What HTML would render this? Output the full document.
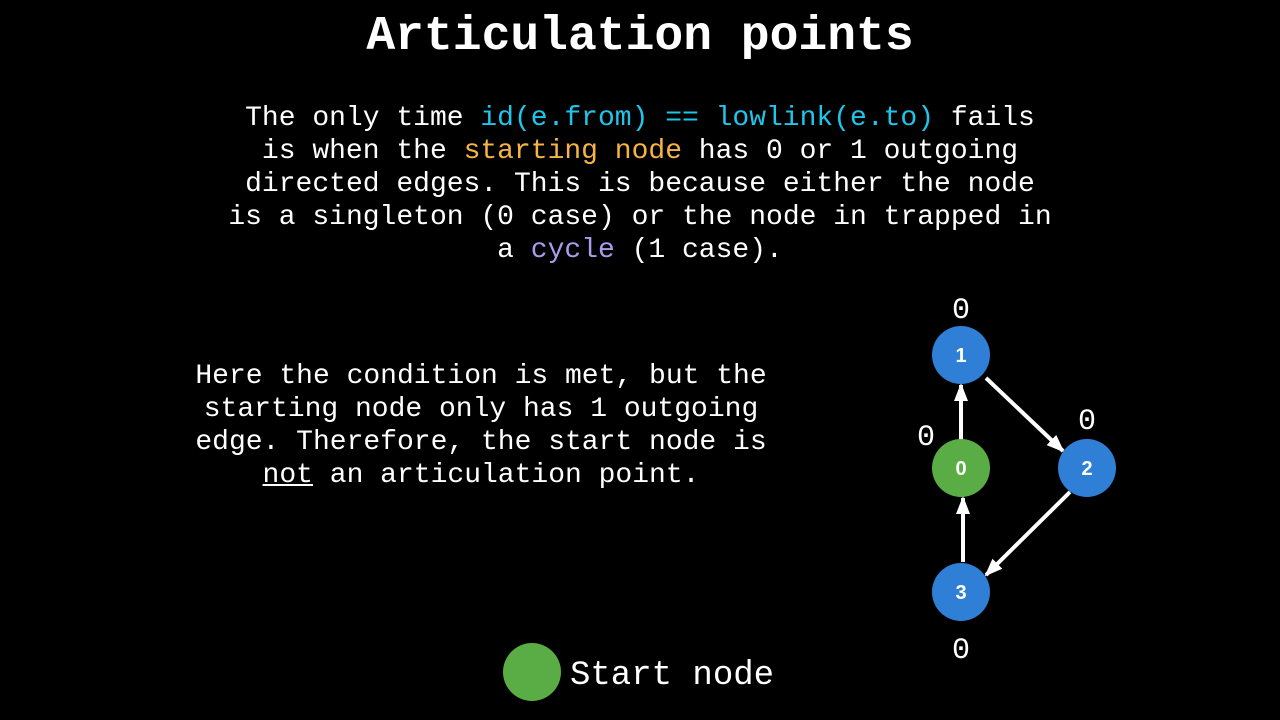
<!DOCTYPE html>
<html><head><style>
body{margin:0;width:1280px;height:720px;background:#000;overflow:hidden;position:relative;font-family:"Liberation Mono",monospace;color:#fff}
.t{position:absolute;left:0;width:1280px;text-align:center;white-space:pre}
.c{color:#1fc6ea}.o{color:#f6b443}.p{color:#a99cec}
</style></head><body>
<div class="t" style="top:9px;font-size:48px;font-weight:bold;line-height:56px">Articulation points</div>
<div class="t" style="top:102px;font-size:28px;line-height:33px">The only time <span class="c">id(e.from) == lowlink(e.to)</span> fails
is when the <span class="o">starting node</span> has 0 or 1 outgoing
directed edges. This is because either the node
is a singleton (0 case) or the node in trapped in
a <span class="p">cycle</span> (1 case).</div>
<div class="t" style="left:0;width:962px;top:360px;font-size:28px;line-height:33px">Here the condition is met, but the
starting node only has 1 outgoing
edge. Therefore, the start node is
<u>not</u> an articulation point.</div>
<svg width="1280" height="720" style="position:absolute;left:0;top:0">
<defs><marker id="a" markerWidth="18" markerHeight="18" refX="16" refY="9" orient="auto" markerUnits="userSpaceOnUse" viewBox="0 0 18 18"><path d="M0,2L18,9L0,16z" fill="#fff"/></marker></defs>
<g stroke="#fff" stroke-width="4" fill="none">
<line x1="961" y1="440" x2="961" y2="385" marker-end="url(#a)"/>
<line x1="963" y1="562" x2="963" y2="498" marker-end="url(#a)"/>
<line x1="986" y1="378" x2="1063" y2="451" marker-end="url(#a)"/>
<line x1="1070" y1="492" x2="986" y2="575" marker-end="url(#a)"/>
</g>
<g font-family="Liberation Sans,sans-serif" font-weight="bold" font-size="20" fill="#fff" text-anchor="middle">
<circle cx="961" cy="355" r="29" fill="#2f7fd6"/><text x="961" y="362">1</text>
<circle cx="961" cy="468" r="29" fill="#5aad45"/><text x="961" y="475">0</text>
<circle cx="1087" cy="468" r="29" fill="#2f7fd6"/><text x="1087" y="475">2</text>
<circle cx="961" cy="592" r="29" fill="#2f7fd6"/><text x="961" y="599">3</text>
<circle cx="532" cy="672" r="29" fill="#5aad45"/>
</g>
<g font-family="Liberation Mono,monospace" font-size="30" fill="#fff" text-anchor="middle">
<text x="961" y="318">0</text><text x="926" y="445">0</text><text x="1087" y="429">0</text><text x="961" y="658">0</text>
</g>
<text x="570" y="684" font-family="Liberation Mono,monospace" font-size="34" fill="#fff">Start node</text>
</svg>
</body></html>
